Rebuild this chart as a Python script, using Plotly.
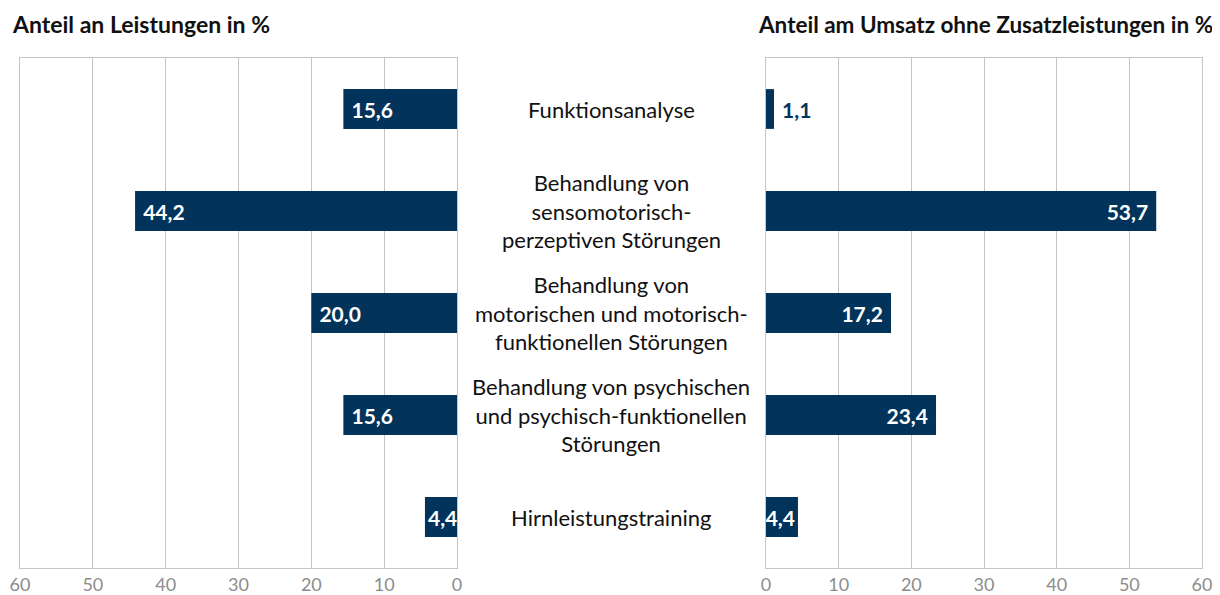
import plotly.graph_objects as go

categories = [
    "Funktionsanalyse",
    "Behandlung von<br>sensomotorisch-<br>perzeptiven Störungen",
    "Behandlung von<br>motorischen und motorisch-<br>funktionellen Störungen",
    "Behandlung von psychischen<br>und psychisch-funktionellen<br>Störungen",
    "Hirnleistungstraining",
]
leistungen = [15.6, 44.2, 20.0, 15.6, 4.4]
umsatz = [1.1, 53.7, 17.2, 23.4, 4.4]
tick_vals = [0, 10, 20, 30, 40, 50, 60]
title_left = "Anteil an Leistungen in %"
title_right = "Anteil am Umsatz ohne Zusatzleistungen in %"

BAR = "#02345B"
GRID = "#C4C4C4"
FONT = "Lato"
OFF = 8  # page body margin
W, H = 1220 - OFF, 595 - OFF
# plot area in page pixels
PL, PR, PT, PB = 20, 1202, 58, 568
ML, MR, MT, MB = PL - OFF, W - (PR - OFF), PT - OFF, H - (PB - OFF)
PW, PH = W - ML - MR, H - MT - MB


def px(x):
    return (x - OFF - ML) / PW


def py(y):
    return 1 - (y - OFF - MT) / PH


PAD = "\u00a0"
left_tpl = [("%{x:.1f}" if v < 6 else PAD + "%{x:.1f}") for v in leistungen]
right_tpl = [("%{x:.1f}" if v < 6 else "%{x:.1f}" + PAD) for v in umsatz]
right_tpl = [(PAD + "%{x:.1f}" if v < 3 else t) for v, t in zip(umsatz, right_tpl)]

fig = go.Figure()
fig.add_trace(go.Bar(
    x=leistungen, y=categories, orientation="h", xaxis="x", yaxis="y",
    marker=dict(color=BAR, line=dict(width=0)), width=0.39,
    texttemplate=left_tpl, textposition="inside", insidetextanchor="end", textangle=0,
    insidetextfont=dict(color="white", size=21, family=FONT, weight="bold"),
    constraintext="none", showlegend=False, hoverinfo="skip",
))
right_pos = ["outside" if v < 3 else "inside" for v in umsatz]
fig.add_trace(go.Bar(
    x=umsatz, y=categories, orientation="h", xaxis="x2", yaxis="y2",
    marker=dict(color=BAR, line=dict(width=0)), width=0.39,
    texttemplate=right_tpl, textposition=right_pos, insidetextanchor="end", textangle=0,
    insidetextfont=dict(color="white", size=21, family=FONT, weight="bold"),
    outsidetextfont=dict(color=BAR, size=21, family=FONT, weight="bold"),
    constraintext="none", cliponaxis=False, showlegend=False, hoverinfo="skip",
))

axis_common = dict(
    tickvals=tick_vals, showgrid=True, gridcolor=GRID, gridwidth=1,
    showline=True, linecolor=GRID, linewidth=1, mirror=True, zeroline=False,
    ticks="", tickfont=dict(color="#8C8C8C", size=18, family=FONT), automargin=False,
)
yaxis_common = dict(
    showticklabels=False, showgrid=False, zeroline=False, showline=True,
    linecolor=GRID, linewidth=1, mirror=True, autorange="reversed",
    ticks="", domain=[0, 1], automargin=False,
)

fig.update_layout(
    width=W, height=H,
    margin=dict(l=ML, r=MR, t=MT, b=MB, autoexpand=False),
    paper_bgcolor="white", plot_bgcolor="white",
    separators=",.",
    font=dict(family=FONT),
    xaxis=dict(domain=[px(20), px(457)], range=[60, 0], anchor="y", **axis_common),
    xaxis2=dict(domain=[px(766), px(1202)], range=[0, 60], anchor="y2", **axis_common),
    yaxis=dict(anchor="x", **yaxis_common),
    yaxis2=dict(anchor="x2", **yaxis_common),
)

for c in categories:
    fig.add_annotation(
        x=px(611), xref="paper", y=c, yref="y", text=c, showarrow=False,
        xanchor="center", yanchor="middle", align="center",
        font=dict(size=22, color="#111111", family=FONT),
    )

fig.add_annotation(x=px(10), y=py(24), xref="paper", yref="paper", text=title_left,
                   showarrow=False, xanchor="left", yanchor="middle",
                   font=dict(size=23, color="#111111", family=FONT, weight="bold"))
fig.add_annotation(x=px(1215), y=py(24), xref="paper", yref="paper", text=title_right,
                   showarrow=False, xanchor="right", yanchor="middle",
                   font=dict(size=22.5, color="#111111", family=FONT, weight="bold"))

fig.write_html("out.html")
